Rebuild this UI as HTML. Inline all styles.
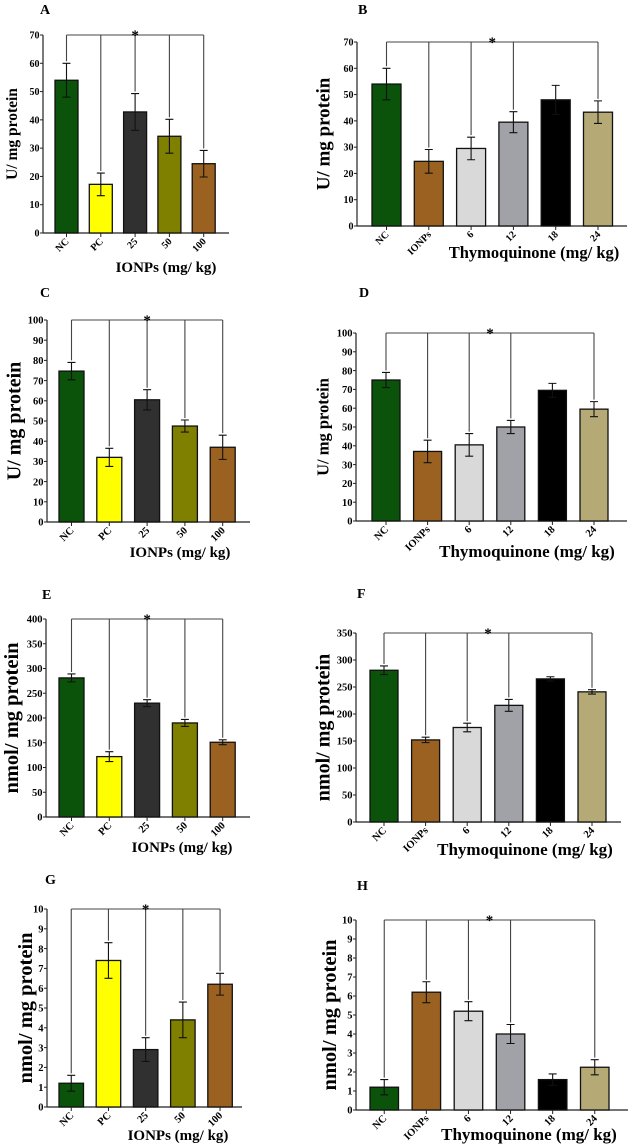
<!DOCTYPE html>
<html><head><meta charset="utf-8">
<style>
html,body{margin:0;padding:0;background:#fff;}
svg{display:block;font-family:"Liberation Serif",serif;font-weight:bold;}
</style></head>
<body>
<svg id="fig" width="628" height="1147" viewBox="0 0 628 1147" xmlns="http://www.w3.org/2000/svg"></svg>
<script>
// ---- data ----
const catsIONP = ["NC","PC","25","50","100"];
const catsTQ = ["NC","IONPs","6","12","18","24"];
const colorsIONP = ["#0b520a","#ffff00","#303030","#7f7f00","#9a6121"];
const colorsTQ = ["#0b520a","#9a6121","#d9d9d9","#a1a1a8","#000000","#b5aa75"];

const valsA = [54, 17.2, 42.8, 34.2, 24.5];
const errsA = [6, 4, 6.5, 6, 4.7];
const valsB = [54, 24.6, 29.5, 39.5, 48, 43.3];
const errsB = [6, 4.5, 4.3, 4, 5.5, 4.3];
const valsC = [74.7, 32, 60.5, 47.5, 37];
const errsC = [4.3, 4.5, 5, 3, 6];
const valsD = [75, 37, 40.5, 50, 69.5, 59.5];
const errsD = [4, 6, 6, 3.5, 3.7, 4];
const valsE = [281, 122, 230, 190, 151];
const errsE = [8, 10, 7, 7, 5];
const valsF = [281, 152, 175, 216, 265, 241];
const errsF = [8, 5, 8, 11, 4, 4];
const valsG = [1.2, 7.4, 2.9, 4.4, 6.2];
const errsG = [0.4, 0.9, 0.6, 0.9, 0.55];
const valsH = [1.2, 6.2, 5.2, 4.0, 1.6, 2.25];
const errsH = [0.4, 0.55, 0.5, 0.5, 0.3, 0.4];

const ticksA = [0,10,20,30,40,50,60,70];
const ticksC = [0,10,20,30,40,50,60,70,80,90,100];
const ticksE = [0,50,100,150,200,250,300,350,400];
const ticksF = [0,50,100,150,200,250,300,350];
const ticksG = [0,1,2,3,4,5,6,7,8,9,10];

const bracketIONP = [0,1,2,3,4];
const bracketTQ = [0,1,2,3,5];

// ---- layout ----
const panels = [
 {id:"a",letter:"A",lx:40,ly:14,ax:43,y0:233,yTop:35,xEnd:229,bx:55,bw:23,step:34.3,tfs:10,cats:catsIONP,cols:colorsIONP,vals:valsA,errs:errsA,ticks:ticksA,br:bracketIONP,ytitle:"U/ mg protein",ytx:12,ytFs:15.5,xtitle:"IONPs (mg/ kg)",xtx:166,xty:272,xtFs:15},
 {id:"b",letter:"B",lx:358,ly:14,ax:357,y0:226,yTop:42,xEnd:627,bx:372,bw:29,step:42.3,tfs:10,cats:catsTQ,cols:colorsTQ,vals:valsB,errs:errsB,ticks:ticksA,br:bracketTQ,ytitle:"U/ mg protein",ytx:323,ytFs:19,xtitle:"Thymoquinone (mg/ kg)",xtx:534,xty:258,xtFs:16.5},
 {id:"c",letter:"C",lx:40,ly:297,ax:47,y0:522,yTop:320,xEnd:250,bx:59,bw:25,step:37.8,tfs:10.5,cats:catsIONP,cols:colorsIONP,vals:valsC,errs:errsC,ticks:ticksC,br:bracketIONP,ytitle:"U/ mg protein",ytx:14,ytFs:20,xtitle:"IONPs (mg/ kg)",xtx:180,xty:557,xtFs:15},
 {id:"d",letter:"D",lx:359,ly:297,ax:356,y0:521,yTop:333,xEnd:627,bx:372,bw:28,step:41.6,tfs:10.5,cats:catsTQ,cols:colorsTQ,vals:valsD,errs:errsD,ticks:ticksC,br:bracketTQ,ytitle:"U/ mg protein",ytx:323,ytFs:16.5,xtitle:"Thymoquinone (mg/ kg)",xtx:527,xty:557,xtFs:17},
 {id:"e",letter:"E",lx:42,ly:599,ax:46,y0:817,yTop:619,xEnd:250,bx:59,bw:25,step:37.8,tfs:10.5,cats:catsIONP,cols:colorsIONP,vals:valsE,errs:errsE,ticks:ticksE,br:bracketIONP,ytitle:"nmol/ mg protein",ytx:11,ytFs:20.5,xtitle:"IONPs (mg/ kg)",xtx:182,xty:852,xtFs:15},
 {id:"f",letter:"F",lx:357,ly:598,ax:356,y0:822,yTop:633,xEnd:621,bx:370,bw:28,step:41.6,tfs:10.5,cats:catsTQ,cols:colorsTQ,vals:valsF,errs:errsF,ticks:ticksF,br:bracketTQ,ytitle:"nmol/ mg protein",ytx:323,ytFs:20,xtitle:"Thymoquinone (mg/ kg)",xtx:525,xty:855,xtFs:17},
 {id:"g",letter:"G",lx:45,ly:884,ax:47,y0:1107,yTop:909,xEnd:242,bx:59,bw:24.5,step:37.2,tfs:10.5,cats:catsIONP,cols:colorsIONP,vals:valsG,errs:errsG,ticks:ticksG,br:bracketIONP,ytitle:"nmol/ mg protein",ytx:25,ytFs:20.5,xtitle:"IONPs (mg/ kg)",xtx:178,xty:1140,xtFs:15},
 {id:"h",letter:"H",lx:357,ly:890,ax:356,y0:1110,yTop:920,xEnd:628,bx:370,bw:28.5,step:42.1,tfs:10.5,cats:catsTQ,cols:colorsTQ,vals:valsH,errs:errsH,ticks:ticksG,br:bracketTQ,ytitle:"nmol/ mg protein",ytx:329,ytFs:20.5,xtitle:"Thymoquinone (mg/ kg)",xtx:529,xty:1140,xtFs:17}
];

const NS = "http://www.w3.org/2000/svg";
const svg = document.getElementById("fig");
function mk(tag, attrs, parent, text){
  const e = document.createElementNS(NS, tag);
  for (const k in attrs) e.setAttribute(k, attrs[k]);
  if (text !== undefined) e.textContent = text;
  parent.appendChild(e);
  return e;
}

panels.forEach(p => {
  const g = mk("g", {}, svg);
  
  
  const tmax = p.ticks[p.ticks.length-1];
  const y = v => p.y0 - (v / tmax) * (p.y0 - p.yTop);
  const cx = i => p.bx + i * p.step + p.bw / 2;

  const lt = mk("text", {x:p.lx, y:p.ly, "font-size":14}, g, p.letter);
  
  

  const yax = mk("line", {x1:p.ax, y1:p.yTop, x2:p.ax, y2:p.y0, stroke:"#222", "stroke-width":1.2}, g);
  
  
  p.ticks.forEach(t => {
    mk("line", {x1:p.ax-3, y1:y(t), x2:p.ax, y2:y(t), stroke:"#222", "stroke-width":1}, g);
    const tl = mk("text", {x:p.ax-3.5, y:y(t)+p.tfs*0.35, "font-size":p.tfs, "text-anchor":"end"}, g, String(t));
    
    
  });
  const xax = mk("line", {x1:p.ax, y1:p.y0, x2:p.xEnd, y2:p.y0, stroke:"#222", "stroke-width":1.2}, g);
  
  

  p.vals.forEach((v, i) => {
    const r = mk("rect", {x:p.bx + i*p.step, y:y(v), width:p.bw, height:p.y0 - y(v), fill:p.cols[i], stroke:"#111", "stroke-width":1.3}, g);
    
    
    const e = p.errs[i], c = cx(i);
    const eb = mk("path", {d:`M${c},${y(v+e)}V${y(v-e)}M${c-4},${y(v+e)}H${c+4}M${c-4},${y(v-e)}H${c+4}`, stroke:"#111", "stroke-width":1.1, fill:"none"}, g);
    
    
    mk("line", {x1:c, y1:p.y0, x2:c, y2:p.y0+4, stroke:"#222", "stroke-width":1}, g);
    const xl = mk("text", {x:0, y:0, "font-size":p.tfs, "text-anchor":"end", transform:`translate(${c+3},${p.y0+9}) rotate(-45)`}, g, p.cats[i]);
    
    
  });

  const first = p.br[0], last = p.br[p.br.length-1];
  let d = `M${cx(first)},${p.yTop}H${cx(last)}`;
  p.br.forEach(i => { d += `M${cx(i)},${p.yTop}V${y(p.vals[i]+p.errs[i])-2}`; });
  const br = mk("path", {d:d, stroke:"#444", "stroke-width":1.1, fill:"none"}, g);
  
  
  const st = mk("text", {x:(cx(first)+cx(last))/2, y:p.yTop+5, "font-size":15, "text-anchor":"middle"}, g, "*");
  
  

  const ym = (p.y0 + p.yTop) / 2;
  const yt = mk("text", {x:0, y:0, "font-size":p.ytFs, "text-anchor":"middle", transform:`translate(${p.ytx + p.ytFs*0.33},${ym}) rotate(-90)`}, g, p.ytitle);
  
  
  const xt = mk("text", {x:p.xtx, y:p.xty, "font-size":p.xtFs, "text-anchor":"middle"}, g, p.xtitle);
  
  
});
</script>
</body></html>
